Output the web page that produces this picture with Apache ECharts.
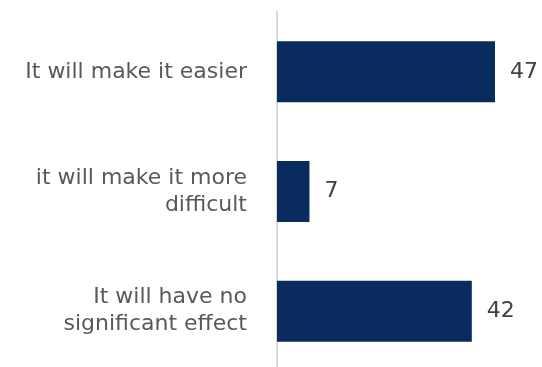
<!DOCTYPE html>
<html>
<head>
<meta charset="utf-8">
<script src="https://cdn.jsdelivr.net/npm/echarts@6/dist/echarts.min.js"></script>
<style>
  html, body { margin: 0; padding: 0; background: #fff; }
  #chart { width: 542px; height: 367px; }
</style>
</head>
<body>
<div id="chart"></div>
<script>
const categories = [
  "It will make it easier",
  "it will make it more\ndifficult",
  "It will have no\nsignificant effect"
]
const values = [47, 7, 42]

const chart = echarts.init(document.getElementById("chart"))
chart.setOption({
  animation: false,
  grid: { left: 277, top: 12, width: 218, height: 359, outerBoundsMode: "none" },
  xAxis: {
    type: "value",
    min: 0,
    max: 47,
    show: false
  },
  yAxis: {
    type: "category",
    inverse: true,
    data: categories,
    axisTick: { show: false },
    axisLine: { lineStyle: { color: "#d9d9d9", width: 2 } },
    axisLabel: {
      margin: 30,
      color: "#595959",
      fontSize: 22,
      lineHeight: 27,
      fontFamily: "DejaVu Sans",
      align: "right"
    }
  },
  series: [
    {
      type: "bar",
      data: values,
      barWidth: 61,
      itemStyle: { color: "#0a2b5e" },
      label: {
        show: true,
        position: "right",
        distance: 15,
        color: "#404040",
        fontSize: 22,
        fontFamily: "DejaVu Sans"
      }
    }
  ]
})
</script>
</body>
</html>
